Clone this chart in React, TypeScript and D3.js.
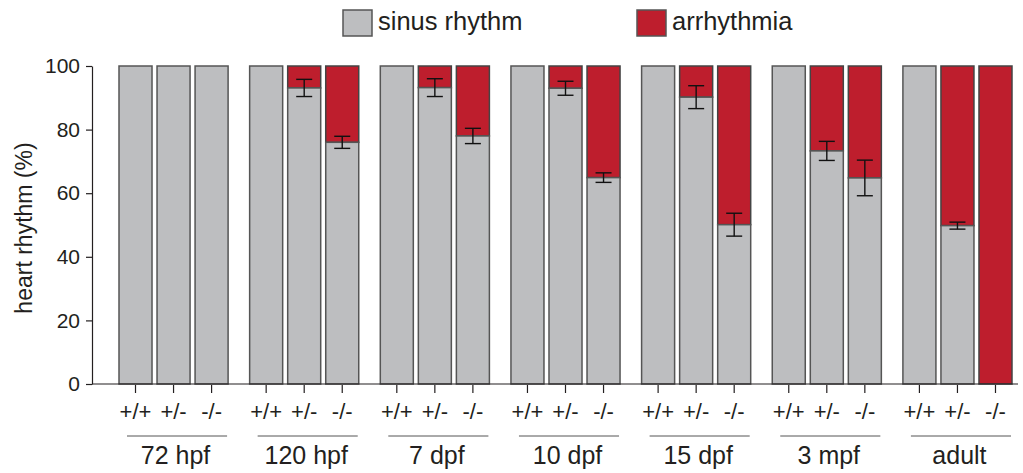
import React, { useEffect, useRef } from 'react';
import * as d3 from 'd3';

const stages = ['72 hpf', '120 hpf', '7 dpf', '10 dpf', '15 dpf', '3 mpf', 'adult'];
const genotypes = ['+/+', '+/-', '-/-'];
// % sinus rhythm per stage, per genotype (+/+, +/-, -/-)
const sinus = [
  [100, 100, 100],
  [100, 93.1, 76.0],
  [100, 93.2, 78.0],
  [100, 93.0, 64.9],
  [100, 90.2, 50.1],
  [100, 73.3, 64.8],
  [100, 49.8, 0],
];
const sem = [
  [0, 0, 0],
  [0, 2.7, 1.9],
  [0, 2.8, 2.4],
  [0, 2.2, 1.5],
  [0, 3.6, 3.6],
  [0, 3.0, 5.6],
  [0, 1.1, 0],
];
const yTicks = [0, 20, 40, 60, 80, 100];
const legendLabels = ['sinus rhythm', 'arrhythmia'];

const GRAY = '#bdbec0';
const RED = '#be1e2d';
const INK = '#231f20';
const FONT = '"Liberation Sans", Arial, Helvetica, sans-serif';

export default function App() {
  const ref = useRef<SVGSVGElement>(null);

  useEffect(() => {
    const svg = d3.select(ref.current);
    svg.selectAll('*').remove();

    const x0 = d3.scaleBand().domain(stages).range([119, 1012]).paddingInner(0.165).paddingOuter(0);
    const x1 = d3.scaleBand().domain(genotypes).range([0, x0.bandwidth()]).paddingInner(0.132).paddingOuter(0);
    const y = d3.scaleLinear().domain([0, 100]).range([384, 66]);

    // legend
    const legendX = [343, 637];
    const legendColors = [GRAY, RED];
    legendLabels.forEach((lab, i) => {
      svg.append('rect')
        .attr('x', legendX[i]).attr('y', 10).attr('width', 29).attr('height', 26)
        .attr('fill', legendColors[i]).attr('stroke', '#555').attr('stroke-width', 1.5);
      svg.append('text')
        .attr('x', legendX[i] + 35).attr('y', 30)
        .attr('font-family', FONT).attr('font-size', 25.5).attr('fill', INK)
        .text(lab);
    });

    // y axis
    const yAxis = svg.append('g').attr('transform', 'translate(92,0)')
      .call(d3.axisLeft(y).tickValues(yTicks).tickSize(6).tickPadding(6).tickSizeOuter(0));
    yAxis.select('.domain').attr('stroke', INK).attr('stroke-width', 1.2);
    yAxis.selectAll('.tick line').attr('stroke', INK).attr('stroke-width', 1.2);
    yAxis.selectAll('.tick text').attr('font-family', FONT).attr('font-size', 21).attr('fill', INK);

    svg.append('text')
      .attr('transform', 'translate(32,228) rotate(-90)')
      .attr('text-anchor', 'middle')
      .attr('font-family', FONT).attr('font-size', 23).attr('fill', INK)
      .text('heart rhythm (%)');

    // bars
    stages.forEach((st, g) => {
      const gx = x0(st)!;
      genotypes.forEach((gt, i) => {
        const bx = gx + x1(gt)!;
        const bw = x1.bandwidth();
        const v = sinus[g][i];
        svg.append('rect')
          .attr('x', bx).attr('y', y(100)).attr('width', bw).attr('height', y(v) - y(100))
          .attr('fill', RED).attr('stroke', '#444').attr('stroke-width', 1.5);
        if (v > 0) {
          svg.append('rect')
            .attr('x', bx).attr('y', y(v)).attr('width', bw).attr('height', y(0) - y(v))
            .attr('fill', GRAY).attr('stroke', '#555').attr('stroke-width', 1.5);
        }
        const e = sem[g][i];
        const cx = bx + bw / 2;
        if (e > 0) {
          const eg = svg.append('g').attr('stroke', '#111').attr('stroke-width', 1.4);
          eg.append('line').attr('x1', cx).attr('x2', cx).attr('y1', y(v + e)).attr('y2', y(v - e));
          eg.append('line').attr('x1', cx - 8).attr('x2', cx + 8).attr('y1', y(v + e)).attr('y2', y(v + e));
          eg.append('line').attr('x1', cx - 8).attr('x2', cx + 8).attr('y1', y(v - e)).attr('y2', y(v - e));
        }
        // x tick and genotype label
        svg.append('line')
          .attr('x1', cx).attr('x2', cx).attr('y1', 385).attr('y2', 393)
          .attr('stroke', INK).attr('stroke-width', 1.2);
        svg.append('text')
          .attr('x', cx).attr('y', 419).attr('text-anchor', 'middle')
          .attr('font-family', FONT).attr('font-size', 22).attr('fill', INK)
          .text(gt);
      });
      svg.append('line')
        .attr('x1', gx + 8).attr('x2', gx + x0.bandwidth() - 1).attr('y1', 436).attr('y2', 436)
        .attr('stroke', '#555').attr('stroke-width', 1);
      svg.append('text')
        .attr('x', gx + x0.bandwidth() / 2 + 2).attr('y', 464).attr('text-anchor', 'middle')
        .attr('font-family', FONT).attr('font-size', 25).attr('fill', INK)
        .text(st);
    });

    // x axis baseline
    svg.append('line')
      .attr('x1', 92).attr('x2', 1018).attr('y1', y(0)).attr('y2', y(0))
      .attr('stroke', INK).attr('stroke-width', 1.2);
  }, []);

  return (
    <div style={{ position: 'absolute', left: 0, top: 0 }}>
      <svg ref={ref} width={1023} height={473} style={{ display: 'block', background: '#fff' }} />
    </div>
  );
}
